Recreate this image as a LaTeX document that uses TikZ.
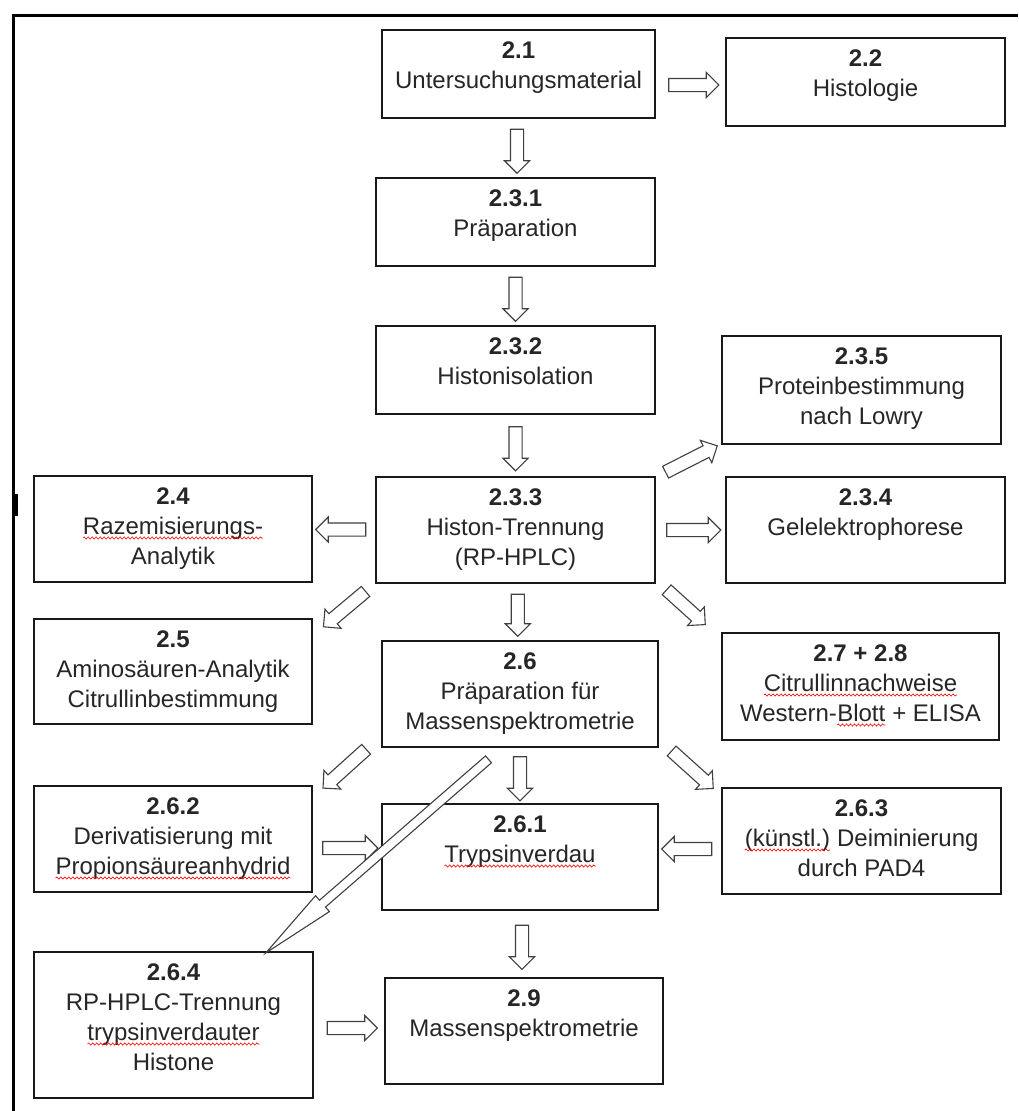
\documentclass[tikz,border=0pt]{standalone}
\usepackage{fontspec}
\setmainfont{Liberation Sans}
\usetikzlibrary{calc,shapes.arrows,decorations.pathmorphing}
% number in bold, then the lines of a box
\newcommand{\boxtext}[2]{\begin{tabular}[t]{@{}c@{}}\textbf{#1}\\#2\end{tabular}}
% red spell-check wave under a word
\newcommand{\spell}[1]{\tikz[baseline=(sp.base)]{\node[inner sep=0pt, outer sep=0pt, draw=none, fill=none,
        minimum width=0pt, minimum height=0pt, text height={}, text depth={}] (sp) {#1};
    \draw[red, line width=0.6pt, decorate, decoration={snake, amplitude=1.1pt, segment length=4pt}]
    ([yshift=-4pt]sp.base west) -- ([yshift=-4pt]sp.base east);}}
\tikzset{
    sect/.style 2 args={draw=black!90, line width=1.5pt, fill=white, minimum width=#1,
        inner xsep=0pt, inner ysep=0pt, text height=28pt, text depth=#2,
        font=\fontsize{24}{30}\selectfont, text=black!85},
    blk/.style={single arrow, draw=black!75, fill=white, line width=1.1pt,
        minimum height=#1, minimum width=24pt, single arrow head extend=6pt,
        single arrow head indent=0pt, inner xsep=0pt, inner ysep=6pt},
    blk/.default=50pt,
    longblk/.style={blk=295pt, minimum width=20pt, inner ysep=4pt, single arrow head extend=6pt,
        single arrow tip angle=16},
}
\begin{document}
\begin{tikzpicture}[x=1pt,y=-1pt]
  \fill[white] (0,0) rectangle (1018,1111);
  \useasboundingbox (0,0) rectangle (1018,1111);
  % frame
  \draw[line width=3pt] (13,1111) -- (13,15) -- (1018,15);
  \fill (13,494) rectangle (18,516);

  \node[sect={273pt}{60pt}] (n21) at (518.5,74) {\boxtext{2.1}{Untersuchungsmaterial}};
  \node[sect={279pt}{60pt}] (n22) at (865.5,82) {\boxtext{2.2}{Histologie}};
  \node[sect={279pt}{60pt}] (n231) at (515.5,222) {\boxtext{2.3.1}{Präparation}};
  \node[sect={279pt}{60pt}] (n232) at (515.5,370) {\boxtext{2.3.2}{Histonisolation}};
  \node[sect={279pt}{80pt}] (n235) at (861.5,390) {\boxtext{2.3.5}{Proteinbestimmung\\nach Lowry}};
  \node[sect={278pt}{78pt}] (n24) at (173,529) {\boxtext{2.4}{\spell{Razemisierungs-}\\Analytik}};
  \node[sect={279pt}{78pt}] (n233) at (515.5,530) {\boxtext{2.3.3}{Histon-Trennung\\(RP-HPLC)}};
  \node[sect={279pt}{78pt}] (n234) at (865.5,530) {\boxtext{2.3.4}{Gelelektrophorese}};
  \node[sect={278pt}{77pt}] (n25) at (173,671.5) {\boxtext{2.5}{Aminosäuren-Analytik\\Citrullinbestimmung}};
  \node[sect={276pt}{78pt}] (n26) at (520,694) {\boxtext{2.6}{Präparation für\\Massenspektrometrie}};
  \node[sect={277pt}{79pt}] (n278) at (860.5,686.5) {\boxtext{2.7 + 2.8}{\spell{Citrullinnachweise}\\Western-\spell{Blott} + ELISA}};
  \node[sect={278pt}{78pt}] (n262) at (173,839) {\boxtext{2.6.2}{Derivatisierung mit\\\spell{Propionsäureanhydrid}}};
  \node[sect={276pt}{78pt}] (n261) at (520,857) {\boxtext{2.6.1}{\spell{Trypsinverdau}}};
  \node[sect={279pt}{78pt}] (n263) at (861.5,841) {\boxtext{2.6.3}{\spell{(künstl.)} Deiminierung\\durch PAD4}};
  \node[sect={279pt}{118pt}] (n264) at (173.5,1025) {\boxtext{2.6.4}{RP-HPLC-Trennung\\\spell{trypsinverdauter}\\Histone}};
  \node[sect={278pt}{78pt}] (n29) at (524,1031) {\boxtext{2.9}{Massenspektrometrie}};

  % block arrows
  \node[blk] (a1) at ($(n21.east)!.5!(n22.west)+(0,7)$) {};
  \node[blk=44pt, rotate=-90] (a2) at ($(n21.south)!.5!(n231.north)$) {};
  \node[blk=44pt, rotate=-90] (a3) at ($(n231.south)!.5!(n232.north)$) {};
  \node[blk=44pt, rotate=-90] (a4) at ($(n232.south)!.5!(n233.north)$) {};
  \node[blk, rotate=180] (a5) at ($(n233.west)!.5!(n24.east)$) {};
  \node[blk=54pt] (a6) at ($(n233.east)!.5!(n234.west)$) {};
  \node[blk=58pt, rotate=27] (a7) at ($(n233.north east)!.5!(n235.south west)$) {};
  \node[blk=55pt, rotate=-140] (a8) at ($(n233.south west)!.5!(n25.north east)+(3,6)$) {};
  \node[blk=52pt, rotate=-42] (a9) at ($(n233.south east)!.5!(n278.north west)+(-5,-3)$) {};
  \node[blk=42pt, rotate=-90] (a10) at ($(n233.south)!.5!(n26.north)$) {};
  \node[blk=44pt, rotate=-90] (a11) at ($(n26.south)!.5!(n261.north)$) {};
  \node[blk=58pt, rotate=-138] (a12) at ($(n26.south west)!.5!(n262.north east)$) {};
  \node[blk=56pt, rotate=-42] (a13) at ($(n26.south east)!.5!(n263.north west)$) {};
  \node[blk=55pt] (a14) at ($(n262.east)!.5!(n261.west)$) {};
  \node[blk, rotate=180] (a15) at ($(n263.west)!.5!(n261.east)$) {};
  \node[blk=44pt, rotate=-90] (a16) at ($(n261.south)!.5!(n29.north)$) {};
  \node[blk] (a17) at ($(n264.east)!.5!(n29.west)$) {};

  \coordinate (lst) at ($(n26.south)+(-20,1)$);
  \coordinate (lend) at ($(n264.north east)+(-35,-9)$);
  \node[longblk, rotate=-139] (a18) at ($(lst)!.5!(lend)$) {};
\end{tikzpicture}
\end{document}
